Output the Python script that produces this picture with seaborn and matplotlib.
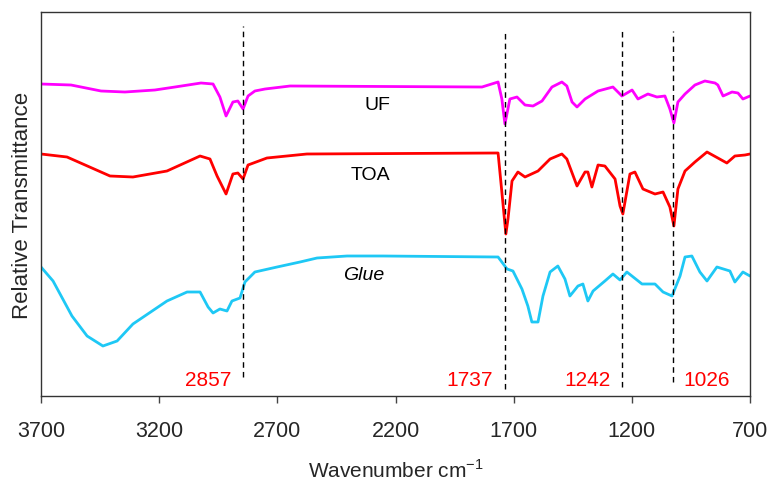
import matplotlib
matplotlib.use("Agg")
import matplotlib.pyplot as plt
import seaborn as sns
import pandas as pd

# ---- data (wavenumber cm-1, relative transmittance in arbitrary offset units) ----
uf_wn = [3700, 3573, 3446, 3345, 3218, 3133, 3023, 2972, 2943, 2917, 2888, 2867, 2845, 2824,
         2795, 2752, 2646, 1834, 1766, 1750, 1737, 1716, 1686, 1652, 1618, 1580, 1538, 1496,
         1475, 1453, 1432, 1398, 1343, 1280, 1242, 1199, 1174, 1132, 1094, 1060, 1039, 1022,
         1005, 975, 933, 891, 848, 836, 814, 776, 751, 730, 700]
uf_t = [315, 314, 308, 307, 309, 312, 316, 315, 302, 283, 297, 298, 290, 303,
        308, 310, 313, 312, 317, 300, 275, 300, 302, 294, 293, 298, 312, 317,
        313, 297, 292, 300, 308, 312, 303, 309, 300, 305, 302, 303, 290, 276,
        297, 305, 314, 318, 316, 314, 303, 307, 306, 300, 303]

toa_wn = [3700, 3590, 3408, 3311, 3167, 3027, 2985, 2955, 2917, 2888, 2867, 2845, 2824, 2744,
          2575, 1766, 1750, 1733, 1724, 1707, 1682, 1652, 1597, 1546, 1496, 1475, 1432, 1398,
          1386, 1369, 1343, 1314, 1271, 1250, 1238, 1208, 1187, 1153, 1102, 1068, 1039, 1022,
          1005, 975, 933, 882, 836, 798, 764, 721, 700]
toa_t = [245, 242, 223, 222, 228, 243, 240, 223, 205, 225, 226, 220, 234, 241,
         245, 246, 207, 165, 180, 218, 227, 222, 228, 240, 245, 240, 213, 227,
         227, 212, 234, 233, 220, 193, 185, 225, 227, 210, 205, 207, 192, 173,
         210, 228, 237, 247, 241, 236, 243, 244, 245]

glue_wn = [3700, 3649, 3569, 3505, 3438, 3378, 3311, 3167, 3082, 3027, 2993, 2972, 2943, 2913,
           2892, 2858, 2837, 2795, 2701, 2604, 2532, 2405, 2253, 1766, 1728, 1703, 1665, 1640,
           1623, 1597, 1576, 1546, 1513, 1483, 1462, 1428, 1407, 1386, 1364, 1314, 1280, 1250,
           1221, 1157, 1102, 1068, 1030, 996, 975, 946, 912, 882, 840, 785, 764, 730, 700]
glue_t = [132, 118, 83, 63, 53, 58, 75, 98, 107, 107, 92, 86, 90, 88,
          98, 101, 117, 127, 132, 137, 141, 143, 143, 142, 130, 128, 110, 93,
          77, 77, 103, 127, 133, 120, 103, 113, 115, 98, 108, 118, 125, 119,
          127, 115, 115, 107, 103, 123, 142, 143, 127, 118, 132, 128, 117, 127, 123]

series_names = ["UF", "TOA", "Glue"]
series_colors = ["#FF00FF", "#FF0000", "#1EC8F5"]

peak_pos = [2845, 1737, 1242, 1026]
peak_labels = ["2857", "1737", "1242", "1026"]
peak_top = [373, 368, 370, 368]
peak_bottom = [22, 10, 12, 17]

x_ticks = [3700, 3200, 2700, 2200, 1700, 1200, 700]

# ---- build table ----
frames = []
for name, wn, t in [("UF", uf_wn, uf_t), ("TOA", toa_wn, toa_t), ("Glue", glue_wn, glue_t)]:
    frames.append(pd.DataFrame({"wn": wn, "t": t, "sample": name}))
df = pd.concat(frames, ignore_index=True)

sns.set_style("ticks")
plt.rcParams["font.family"] = ["Liberation Sans", "DejaVu Sans"]

fig = plt.figure(figsize=(7.69, 4.85), dpi=100)
ax = fig.add_axes([41 / 769, 88 / 485, 709 / 769, 384 / 485])

sns.lineplot(data=df, x="wn", y="t", hue="sample", hue_order=series_names,
             palette=dict(zip(series_names, series_colors)), estimator=None,
             sort=True, linewidth=2.0, legend=False, ax=ax)

for pos, top, bot in zip(peak_pos, peak_top, peak_bottom):
    ax.plot([pos, pos], [bot, top], color="black", linestyle=(0, (4, 3)), linewidth=1.0)

label_x = [2993, 1885, 1386, 882]
for lx, lab in zip(label_x, peak_labels):
    ax.text(lx, 19, lab, color="#FF0000", fontsize=15, ha="center", va="center")

ax.text(2278, 294, "UF", fontsize=14, ha="center", va="center", color="black")
ax.text(2308, 225, "TOA", fontsize=14, ha="center", va="center", color="black")
ax.text(2333, 124, "Glue", fontsize=14, ha="center", va="center", color="black", style="italic")

ax.set_xlim(3700, 700)
ax.set_ylim(3, 387)
ax.set_xticks(x_ticks)
ax.set_xticklabels([str(v) for v in x_ticks], fontsize=15.5)
ax.set_yticks([])
ax.tick_params(axis="x", direction="out", length=5, width=1, pad=12, color="#444444")
for s in ax.spines.values():
    s.set_visible(True)
    s.set_color("#333333")
    s.set_linewidth(1.0)

ax.set_xlabel("Wavenumber cm$^{\\mathregular{-1}}$", fontsize=15, labelpad=13)
ax.set_ylabel("Relative Transmittance", fontsize=16, labelpad=6)

fig.savefig("out.png", dpi=100)
